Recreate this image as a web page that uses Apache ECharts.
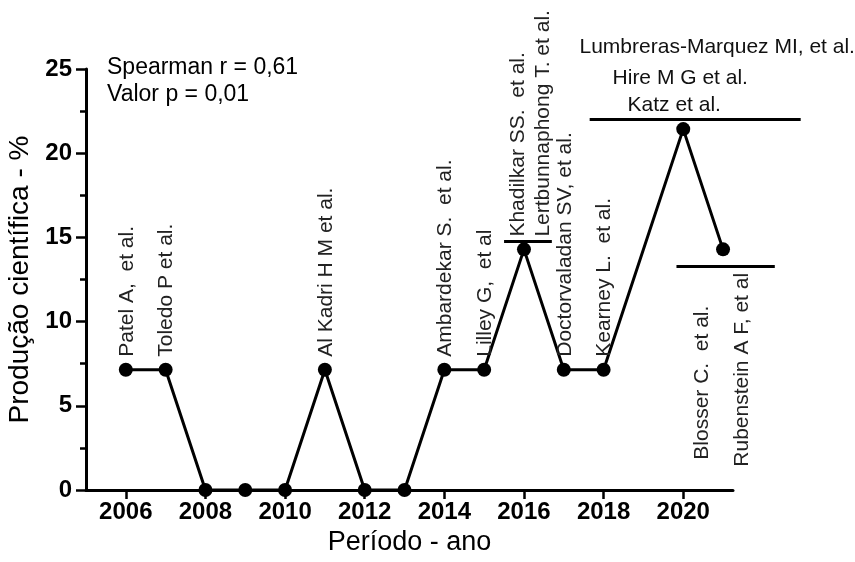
<!DOCTYPE html>
<html>
<head>
<meta charset="utf-8">
<script src="https://cdn.jsdelivr.net/npm/echarts@6/dist/echarts.min.js"></script>
<style>
  html, body { margin: 0; padding: 0; background: #fff; }
  #chart { width: 855px; height: 562px; }
</style>
</head>
<body>
<div id="chart"></div>
<script>
// Publication years and share of scientific output (%)
const years = [2006, 2007, 2008, 2009, 2010, 2011, 2012, 2013, 2014, 2015, 2016, 2017, 2018, 2020, 2021];
const share = [7.14, 7.14, 0, 0, 0, 7.14, 0, 0, 7.14, 7.14, 14.29, 7.14, 7.14, 21.43, 14.29];
// Studies published in each year
const authors = [
  ["Patel A,  et al."],
  ["Toledo P et al."],
  [], [], [],
  ["Al Kadri H M et al."],
  [], [],
  ["Ambardekar S.  et al."],
  ["Lilley G,  et al"],
  ["Khadilkar SS.  et al.", "Lertbunnaphong T. et al."],
  ["Doctorvaladan SV, et al."],
  ["Kearney L.  et al."],
  ["Katz et al.", "Hire M G et al.", "Lumbreras-Marquez MI, et al."],
  ["Blosser C.  et al.", "Rubenstein A F, et al"]
];
const xTicks = [2006, 2008, 2010, 2012, 2014, 2016, 2018, 2020];
const statsText = ["Spearman r = 0,61", "Valor p = 0,01"];
const axisNames = { x: "Período - ano", y: "Produção científica - %" };

const FONT = "'Liberation Sans', Arial, sans-serif";
const chart = echarts.init(document.getElementById('chart'), null, { renderer: 'canvas' });

chart.setOption({
  animation: false,
  backgroundColor: '#fff',
  grid: { left: 86, right: 122, top: 69, bottom: 72, containLabel: false, outerBoundsMode: 'none' },
  xAxis: {
    type: 'value', min: 2005, max: 2021.25,
    name: axisNames.x, nameLocation: 'middle', nameGap: 35,
    nameTextStyle: { fontFamily: FONT, fontSize: 27, color: '#000' },
    axisLine: { lineStyle: { color: '#000', width: 3 } },
    axisTick: { show: true, customValues: xTicks, length: 9, lineStyle: { width: 2.5, color: '#000' } },
    axisLabel: {
      customValues: xTicks, formatter: v => String(v),
      fontFamily: FONT, fontSize: 24, fontWeight: 'bold', color: '#000', margin: 10
    },
    splitLine: { show: false }
  },
  yAxis: {
    type: 'value', min: 0, max: 25, interval: 5,
    name: axisNames.y, nameLocation: 'middle', nameGap: 46,
    nameTextStyle: { fontFamily: FONT, fontSize: 28, color: '#000' },
    axisLine: { show: true, lineStyle: { color: '#000', width: 3 } },
    axisTick: { show: true, length: 10, lineStyle: { width: 2.5, color: '#000' } },
    minorTick: { show: true, splitNumber: 2, length: 6, lineStyle: { width: 2.5, color: '#000' } },
    axisLabel: { fontFamily: FONT, fontSize: 24, fontWeight: 'bold', color: '#000', margin: 14 },
    splitLine: { show: false }
  },
  series: [{
    type: 'line',
    data: years.map((y, i) => [y, share[i]]),
    symbol: 'circle', symbolSize: 14,
    lineStyle: { color: '#000', width: 3 },
    itemStyle: { color: '#000' },
    clip: false,
    z: 5
  }]
});

// Label placement per year: offsets in pixels from the point
const px = (x, y) => chart.convertToPixel({ gridIndex: 0 }, [x, y]);
const graphics = [];
const lblFont = '21px ' + FONT;
const hLabelFont = '21px ' + FONT;

function vText(text, x, y) {
  graphics.push({
    type: 'text', x: x, y: y, rotation: Math.PI / 2, z: 10,
    style: { text: text, font: lblFont, fill: '#222', align: 'left', verticalAlign: 'middle' }
  });
}
function hText(text, x, y, align) {
  graphics.push({
    type: 'text', x: x, y: y, z: 10,
    style: { text: text, font: hLabelFont, fill: '#111', align: align || 'center', verticalAlign: 'middle' }
  });
}
function bracket(x1, x2, v) {
  const a = px(x1, v), b = px(x2, v);
  graphics.push({
    type: 'line', z: 10,
    shape: { x1: a[0], y1: a[1], x2: b[0], y2: b[1] },
    style: { stroke: '#000', lineWidth: 3 }
  });
}

years.forEach((yr, i) => {
  const names = authors[i];
  const p = px(yr, share[i]);
  if (names.length === 1) {
    vText(names[0], p[0] + 1, p[1] - 13);
  }
});

// 2016 pair above a short bracket
(function () {
  const i = years.indexOf(2016);
  const p = px(2016, share[i]);
  const b = px(2016, 14.75);
  bracket(2015.5, 2016.7, 14.75);
  vText(authors[i][0], p[0] - 6, b[1] - 5);
  vText(authors[i][1], p[0] + 19, b[1] - 5);
})();

// 2020 group stacked above a long bracket
(function () {
  const i = years.indexOf(2020);
  const p = px(2020, share[i]);
  bracket(2017.65, 2022.95, 22.0);
  hText(authors[i][0], p[0] - 9, p[1] - 24);
  hText(authors[i][1], p[0] - 3, p[1] - 51);
  hText(authors[i][2], p[0] + 34, p[1] - 82);
})();

// 2021 pair hanging below a bracket
(function () {
  const i = years.indexOf(2021);
  const p = px(2021, share[i]);
  bracket(2019.83, 2022.3, 13.27);
  const t = px(2021, 1.8);
  vText(authors[i][0], p[0] - 21, t[1]);
  vText(authors[i][1], p[0] + 19, t[1] + 7);
})();

// Correlation statistics
statsText.forEach((s, k) => {
  graphics.push({
    type: 'text', x: 107, y: 68 + k * 27, z: 10,
    style: { text: s, font: '23px ' + FONT, fill: '#000', align: 'left', verticalAlign: 'middle' }
  });
});

chart.setOption({ graphic: graphics });
</script>
</body>
</html>
